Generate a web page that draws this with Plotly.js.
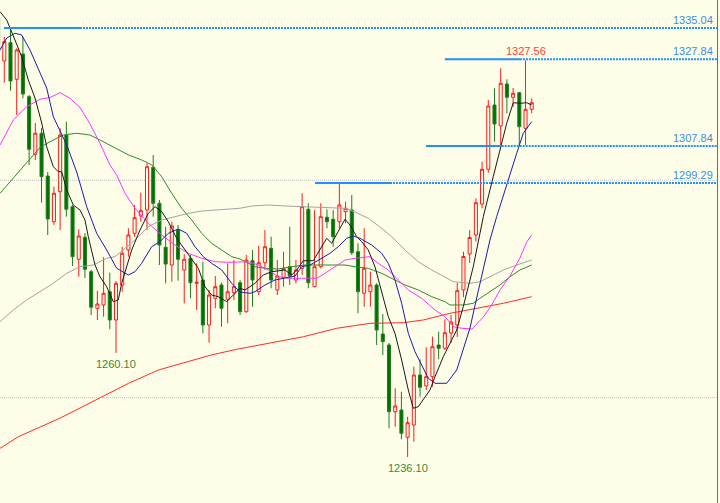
<!DOCTYPE html>
<html><head><meta charset="utf-8">
<script src="https://cdn.plot.ly/plotly-3.0.1.min.js"></script>
<style>html,body{margin:0;padding:0;background:#fdfde8;}#chart{width:720px;height:503px;}</style>
</head><body><div id="chart"></div>
<script>
// ---- candle data (bar index 0..86) ----
const bars = Array.from({length: 87}, (_, i) => i);
const open = [1337.35,1327.43,1331.65,1323.21,1329.04,1319.20,1305.91,1310.76,1300.91,1290.37,
1297.29,1310.36,1293.83,1281.70,1286.77,1278.84,1270.39,1271.16,1274.22,1267.70,
1275.77,1283.84,1287.69,1291.68,1293.07,1302.91,1294.61,1284.46,1280.38,1288.45,
1279.23,1281.93,1276.16,1276.92,1266.54,1272.70,1275.77,1272.47,1273.99,1276.30,
1269.61,1281.37,1274.22,1280.91,1284.23,1274.62,1277.54,1279.99,1276.92,1279.62,
1293.23,1275.38,1279.99,1291.38,1290.92,1290.37,1292.67,1293.07,1283.45,1273.85,
1274.22,1275.77,1264.47,1261.93,1246.55,1246.94,1240.64,1243.48,1255.01,1252.48,
1254.62,1261.93,1261.17,1264.70,1266.54,1274.62,1282.92,1287.30,1294.45,1302.45,
1317.28,1312.44,1322.13,1319.06,1320.12,1311.91,1316.29];
const high = [1338.73,1333.03,1335.04,1330.36,1332.96,1319.59,1313.13,1311.98,1301.83,1298.44,
1311.91,1313.43,1294.22,1288.62,1287.76,1279.23,1274.45,1282.16,1278.61,1276.69,
1284.60,1288.85,1294.22,1297.06,1303.84,1305.75,1295.37,1289.21,1290.37,1289.61,
1282.92,1282.69,1280.77,1281.14,1274.62,1277.84,1276.30,1280.77,1281.53,1276.92,
1282.69,1283.84,1284.76,1288.45,1286.91,1281.53,1283.45,1289.21,1281.53,1296.92,
1294.61,1293.07,1294.61,1293.23,1293.07,1299.29,1294.98,1296.53,1285.39,1288.85,
1278.84,1276.16,1269.08,1262.39,1251.94,1251.16,1245.39,1256.93,1258.63,1261.40,
1263.85,1265.00,1267.86,1268.85,1276.23,1283.45,1288.45,1295.76,1304.21,1318.44,
1321.13,1325.75,1323.21,1321.20,1320.28,1327.56,1318.83];
const low = [1328.58,1322.43,1320.58,1314.98,1318.83,1303.44,1304.60,1294.75,1287.30,1289.61,
1288.45,1291.52,1280.15,1277.68,1277.38,1268.85,1267.70,1268.46,1265.55,1260.10,
1274.22,1282.30,1286.91,1290.37,1288.45,1291.52,1280.38,1276.16,1276.53,1276.76,
1271.55,1272.70,1270.00,1264.63,1262.46,1270.39,1266.15,1266.94,1272.31,1268.85,
1269.38,1270.76,1273.46,1279.23,1275.01,1273.46,1275.38,1275.77,1276.16,1278.07,
1275.01,1275.24,1279.62,1288.85,1284.60,1288.85,1290.00,1282.69,1269.24,1270.76,
1270.76,1261.93,1259.62,1242.72,1243.09,1240.18,1236.10,1239.63,1250.01,1251.55,
1252.31,1258.63,1260.78,1262.39,1263.78,1273.00,1280.84,1285.76,1293.46,1301.67,
1308.82,1307.67,1315.37,1316.89,1307.84,1308.06,1315.37];
const close = [1329.51,1331.88,1322.82,1329.97,1319.82,1307.07,1310.76,1300.75,1290.99,1296.92,
1310.36,1293.23,1282.30,1287.07,1279.39,1270.63,1271.39,1273.85,1267.70,1276.16,
1283.08,1287.30,1291.29,1292.91,1303.05,1294.61,1284.99,1280.61,1289.38,1281.70,
1281.70,1276.30,1276.39,1266.54,1273.46,1275.38,1270.39,1274.22,1275.38,1269.61,
1281.53,1276.92,1280.91,1284.60,1276.92,1277.84,1279.62,1277.84,1279.23,1293.83,
1276.30,1279.99,1291.52,1290.37,1286.91,1294.22,1293.46,1283.22,1274.22,1279.62,
1275.77,1265.39,1262.69,1246.55,1247.86,1241.57,1244.01,1255.01,1252.18,1254.62,
1261.54,1261.17,1264.77,1267.24,1274.45,1282.34,1286.72,1294.75,1302.45,1317.05,
1312.90,1322.29,1319.06,1319.98,1312.28,1316.29,1317.81];

// ---- moving averages (bar position, price) ----
const maBlackX = [0.31,1.39,2.72,3.80,4.87,5.95,7.03,7.83,8.90,9.70,10.25,11.06,12.12,13.20,14.00,14.54,15.62,16.42,17.50,18.57,19.37,19.92,21.53,22.87,24.21,25.29,26.37,27.43,28.78,30.12,31.20,32.27,33.34,34.42,35.49,36.84,37.65,38.98,39.79,41.40,42.74,44.09,46.24,47.32,48.12,49.19,50.80,51.88,52.96,53.76,54.83,55.91,56.71,57.79,58.60,59.66,60.74,61.82,62.89,63.96,65.04,66.11,66.91,67.72,68.80,69.60,70.41,71.75,73.91,74.97,76.58,78.20,79.80,80.88,81.97,83.03,84.11,85.19,85.99];
const maBlackY = [1338.80,1336.88,1332.27,1328.42,1323.05,1318.90,1313.13,1307.66,1303.05,1301.90,1301.90,1297.68,1294.22,1293.07,1290.76,1286.91,1280.38,1277.68,1275.37,1271.92,1272.31,1276.16,1283.84,1288.45,1292.30,1293.83,1292.68,1290.37,1286.54,1283.84,1281.53,1279.62,1275.38,1273.46,1273.07,1271.92,1273.07,1275.01,1274.62,1276.16,1278.07,1278.84,1279.23,1278.07,1279.23,1281.37,1281.37,1283.84,1286.54,1285.39,1288.06,1290.92,1289.61,1286.91,1285.76,1283.84,1279.99,1273.85,1268.46,1264.63,1258.47,1251.55,1247.33,1247.70,1250.00,1251.55,1254.62,1259.23,1265.39,1270.76,1279.99,1291.52,1300.75,1306.90,1313.06,1317.81,1317.67,1317.81,1317.28];
const maBlueX = [0.31,1.39,2.72,3.80,5.14,6.75,7.83,8.90,9.98,11.06,12.67,14.28,15.89,17.50,19.11,20.98,22.06,23.14,24.75,26.09,27.43,29.04,30.39,31.73,33.07,34.42,36.04,37.65,38.98,40.60,41.40,43.01,44.63,46.24,47.85,48.93,50.27,51.88,53.49,54.83,56.18,57.25,58.32,60.21,61.82,62.89,63.96,65.04,66.11,67.19,68.27,69.33,70.41,71.75,72.30,73.91,74.97,76.05,77.13,78.20,79.27,80.35,81.97,83.58,84.64,85.99];
const maBlueY = [1329.97,1332.73,1333.82,1333.43,1329.97,1324.96,1321.20,1314.58,1311.12,1308.06,1301.83,1293.82,1287.69,1283.84,1279.62,1278.07,1278.84,1280.77,1284.60,1285.76,1287.69,1288.68,1287.69,1284.60,1282.29,1280.77,1279.23,1276.16,1274.16,1273.85,1274.22,1275.77,1276.92,1277.31,1277.84,1279.99,1280.38,1281.70,1283.08,1284.60,1286.54,1287.07,1286.54,1284.99,1283.08,1280.77,1276.92,1271.55,1264.63,1260.39,1257.32,1254.25,1253.10,1253.10,1253.10,1256.16,1260.77,1265.85,1272.77,1279.23,1286.15,1291.52,1299.06,1306.14,1310.76,1313.43];
const maMagentaX = [0.31,2.45,4.61,6.75,8.36,9.98,11.59,13.20,14.81,16.42,18.03,19.11,20.45,22.06,24.21,26.37,28.51,30.65,32.81,34.96,37.10,38.98,40.32,41.93,43.55,45.16,46.77,48.93,51.35,52.68,54.29,55.91,57.52,59.94,61.27,62.89,64.50,66.11,68.27,70.41,72.02,73.36,74.76,76.37,78.20,79.44,80.89,82.50,84.11,85.19,85.99];
const maMagentaY = [1308.06,1313.82,1316.89,1318.60,1319.01,1320.12,1318.83,1316.70,1312.90,1308.45,1303.44,1301.14,1296.92,1293.46,1290.00,1287.30,1284.99,1283.08,1281.93,1281.14,1281.00,1281.00,1281.14,1280.38,1279.23,1277.68,1277.31,1277.31,1277.31,1278.46,1279.99,1281.53,1281.93,1282.30,1280.77,1279.23,1276.92,1274.62,1272.70,1270.00,1268.46,1266.15,1265.78,1265.62,1268.39,1270.91,1274.62,1277.84,1282.00,1285.68,1287.30];
const maGreenX = [0.31,2.45,4.61,6.75,8.36,10.51,12.67,14.81,16.42,18.57,20.98,23.14,24.75,26.37,27.98,29.59,31.20,32.81,34.42,36.04,37.65,38.98,39.79,41.40,43.01,45.16,47.32,49.46,53.76,55.91,57.52,59.66,61.82,63.96,65.58,67.72,69.88,72.02,72.83,74.97,76.58,77.66,79.27,80.89,82.50,84.11,85.99];
const maGreenY = [1296.92,1300.45,1303.84,1307.48,1308.82,1310.36,1310.76,1310.36,1309.21,1307.66,1305.79,1304.60,1303.49,1300.74,1296.92,1293.46,1290.76,1287.69,1285.38,1283.84,1282.30,1281.77,1281.14,1279.99,1279.62,1279.46,1279.99,1280.38,1280.38,1280.38,1279.99,1279.62,1278.46,1276.92,1275.77,1274.62,1273.07,1271.92,1271.16,1271.16,1271.55,1272.70,1274.22,1275.77,1277.68,1279.23,1280.38];
const maGrayX = [0.31,2.45,4.61,6.75,8.90,11.06,13.20,15.34,17.50,18.84,20.45,22.06,24.21,26.37,28.51,30.65,32.81,34.96,37.10,38.98,40.87,43.55,46.24,48.93,51.60,53.76,55.91,57.52,59.66,61.82,63.43,65.58,67.72,69.88,72.02,73.36,76.05,77.66,79.27,81.42,83.58,85.99];
const maGrayY = [1267.31,1270.00,1272.31,1274.22,1276.16,1278.46,1280.00,1280.38,1281.93,1282.30,1284.23,1286.15,1289.22,1290.76,1291.52,1292.30,1292.83,1293.07,1293.23,1293.46,1293.99,1294.22,1293.99,1293.83,1293.83,1293.69,1293.46,1292.61,1291.15,1288.84,1286.91,1283.84,1281.14,1279.23,1277.61,1276.53,1276.16,1276.53,1277.68,1279.23,1280.38,1281.53];
const maRedX = [0.31,3.27,9.93,15.84,21.03,25.83,30.64,34.34,38.45,43.82,49.19,54.57,59.94,65.30,68.53,72.83,77.13,81.42,85.99];
const maRedY = [1238.10,1240.78,1245.02,1249.24,1253.10,1256.16,1258.08,1259.62,1260.94,1262.32,1263.84,1265.78,1266.93,1267.07,1267.70,1269.24,1270.40,1271.55,1273.07];

// ---- horizontal levels ----
const levelPrices = [1335.04, 1327.84, 1307.84, 1299.29];
const levelLabels = ['1335.04', '1327.84', '1307.84', '1299.29'];
const levelFrom = [0.95, 72.0, 68.96, 51.07];
const levelTo = [13.2, 84.1, 81.16, 63.16];
const gridPrices = [1299.9, 1249.8];

// ---- marked extremes ----
const hiBar = 85, loBar1 = 19, loBar2 = 66;

const BG = '#fdfde8';
const XMIN = 0.307, XMAX = 115.86;

const traces = [{
  type: 'candlestick', x: bars, open: open, high: high, low: low, close: close,
  increasing: {line: {color: '#ff1a1a', width: 1}, fillcolor: BG},
  decreasing: {line: {color: '#1f7f1f', width: 1}, fillcolor: '#007000'},
  whiskerwidth: 0, hoverinfo: 'skip'
}];
function ma(x, y, color, w) {
  return {type: 'scatter', mode: 'lines', x: x, y: y, line: {color: color, width: w || 1}, hoverinfo: 'skip'};
}
traces.push(ma(maRedX, maRedY, '#ff2a2a'));
traces.push(ma(maGrayX, maGrayY, '#a3a3a3'));
traces.push(ma(maGreenX, maGreenY, '#2e8b2e'));
traces.push(ma(maMagentaX, maMagentaY, '#ff33ff'));
traces.push(ma(maBlueX, maBlueY, '#1c1ca8'));
traces.push(ma(maBlackX, maBlackY, '#1a1a1a'));

const shapes = [];
gridPrices.forEach(g => shapes.push({type: 'line', xref: 'paper', yref: 'y', x0: 0, x1: 1, y0: g, y1: g, layer: 'below',
  line: {color: '#c4c4c4', width: 1, dash: '1px,1px'}}));
const annotations = [];
levelPrices.forEach((p, i) => {
  shapes.push({type: 'line', xref: 'x', yref: 'y', x0: levelFrom[i], x1: levelTo[i], y0: p, y1: p, line: {color: '#1e90ff', width: 2}});
  shapes.push({type: 'line', xref: 'x', yref: 'y', x0: levelTo[i], x1: XMAX, y0: p, y1: p, line: {color: '#1e90ff', width: 2, dash: '2px,1px'}});
  annotations.push({xref: 'paper', yref: 'y', x: 1, y: p, xanchor: 'right', yanchor: 'bottom', xshift: -2, yshift: 0,
    text: levelLabels[i], showarrow: false, font: {family: 'Liberation Sans, Arial, sans-serif', size: 11, color: '#3a8ee6'}});
});
annotations.push({x: hiBar, y: high[hiBar], xref: 'x', yref: 'y', yanchor: 'bottom', xanchor: 'center', yshift: 1, showarrow: false,
  text: high[hiBar].toFixed(2), font: {family: 'Liberation Sans, Arial, sans-serif', size: 11, color: '#ff3b3b'}});
[loBar1, loBar2].forEach(b => annotations.push({x: b, y: low[b], xref: 'x', yref: 'y', yanchor: 'top', xanchor: 'center', yshift: -3, showarrow: false,
  text: low[b].toFixed(2), font: {family: 'Liberation Sans, Arial, sans-serif', size: 11, color: '#3a8a3a'}}));

const layout = {
  width: 720, height: 503,
  margin: {l: 0, r: 3, t: 0, b: 0},
  paper_bgcolor: BG, plot_bgcolor: BG,
  showlegend: false,
  xaxis: {range: [XMIN, XMAX], visible: false, rangeslider: {visible: false}, fixedrange: true},
  yaxis: {range: [1225.49, 1341.498], side: 'right', showgrid: false, zeroline: false, showticklabels: false,
    ticks: '', showline: true, linecolor: '#707070', linewidth: 1, fixedrange: true},
  shapes: shapes, annotations: annotations
};
Plotly.newPlot('chart', traces, layout, {staticPlot: true, displayModeBar: false});
</script></body></html>
